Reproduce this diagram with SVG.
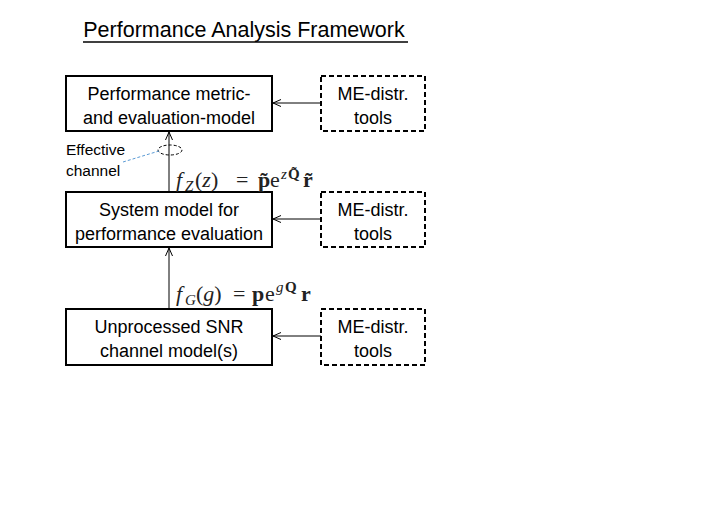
<svg xmlns="http://www.w3.org/2000/svg" width="708" height="531" viewBox="0 0 708 531">
<style>
.box{fill:#fff;stroke:#000;stroke-width:2}
.dbox{fill:#fff;stroke:#000;stroke-width:2;stroke-dasharray:5,3}
.t{font-family:"Liberation Sans",Arial,sans-serif;font-size:18px;fill:#000;text-anchor:middle}
.lbl{font-family:"Liberation Sans",Arial,sans-serif;font-size:15.5px;fill:#000}
.m{font-family:"Liberation Serif","Times New Roman",serif;font-size:22px;fill:#222}
.mi{font-style:italic}
.mb{font-weight:bold}
.sub{font-size:15px}
.conn{stroke:#000;stroke-width:1;fill:none}
</style>
<defs>
<marker id="ah" markerWidth="10" markerHeight="10" refX="9" refY="5" orient="auto" markerUnits="userSpaceOnUse">
<path d="M1,1.5 L9,5 L1,8.5" fill="none" stroke="#000" stroke-width="1"/>
</marker>
</defs>
<rect width="708" height="531" fill="#fff"/>
<g id="title">
<text x="244" y="37" class="t" style="font-size:21.5px">Performance Analysis Framework</text>
<line x1="83" y1="42" x2="408" y2="42" stroke="#000" stroke-width="1.5"/>
</g>
<g id="n1">
<rect x="66" y="76" width="206" height="55" class="box"/>
<text x="169" y="100" class="t">Performance metric-</text>
<text x="169" y="124" class="t">and evaluation-model</text>
</g>
<g id="n2">
<rect x="66" y="192" width="206" height="55" class="box"/>
<text x="169" y="216" class="t">System model for</text>
<text x="169" y="240" class="t">performance evaluation</text>
</g>
<g id="n3">
<rect x="66" y="309" width="206" height="56" class="box"/>
<text x="169" y="333" class="t">Unprocessed SNR</text>
<text x="169" y="357" class="t">channel model(s)</text>
</g>
<g id="d1">
<rect x="321" y="76" width="104" height="55" class="dbox"/>
<text x="373" y="100" class="t">ME-distr.</text>
<text x="373" y="124" class="t">tools</text>
</g>
<g id="d2">
<rect x="321" y="192" width="104" height="55" class="dbox"/>
<text x="373" y="216" class="t">ME-distr.</text>
<text x="373" y="240" class="t">tools</text>
</g>
<g id="d3">
<rect x="321" y="309" width="104" height="56" class="dbox"/>
<text x="373" y="333" class="t">ME-distr.</text>
<text x="373" y="357" class="t">tools</text>
</g>
<g id="connectors">
<line x1="321" y1="103" x2="273" y2="103" class="conn" marker-end="url(#ah)"/>
<line x1="321" y1="219" x2="273" y2="219" class="conn" marker-end="url(#ah)"/>
<line x1="321" y1="336" x2="273" y2="336" class="conn" marker-end="url(#ah)"/>
<line x1="169" y1="192" x2="169" y2="132" class="conn" marker-end="url(#ah)"/>
<line x1="169" y1="309" x2="169" y2="248" class="conn" marker-end="url(#ah)"/>
<ellipse cx="170" cy="150" rx="12" ry="5" fill="none" stroke="#000" stroke-width="1" stroke-dasharray="3,2"/>
<line x1="123" y1="162" x2="159" y2="151" stroke="#5b9bd5" stroke-width="1" stroke-dasharray="3,2"/>
</g>
<g id="effective">
<text x="66" y="155" class="lbl">Effective</text>
<text x="66" y="176" class="lbl">channel</text>
</g>
<g id="fz">
<text class="m"><tspan x="176" y="187" class="mi">f</tspan><tspan x="185" y="191" class="mi sub">Z</tspan><tspan x="195" y="187">(</tspan><tspan class="mi">z</tspan><tspan>)</tspan><tspan x="236" y="187">=</tspan><tspan x="258" y="187" class="mb">p̃</tspan><tspan x="270" y="187">e</tspan><tspan x="281" y="179" class="mi sub">z</tspan><tspan x="288" y="179" class="mb sub">Q̃</tspan><tspan x="303" y="187" class="mb">r̃</tspan></text>
</g>
<g id="fg">
<text class="m"><tspan x="176" y="301" class="mi">f</tspan><tspan x="185" y="305" class="mi sub">G</tspan><tspan x="196" y="301">(</tspan><tspan class="mi">g</tspan><tspan>)</tspan><tspan x="233" y="301">=</tspan><tspan x="252" y="301" class="mb">p</tspan><tspan x="265" y="301">e</tspan><tspan x="276" y="292" class="mi sub">g</tspan><tspan x="285" y="292" class="mb sub">Q</tspan><tspan x="301" y="301" class="mb">r</tspan></text>
</g>
</svg>
